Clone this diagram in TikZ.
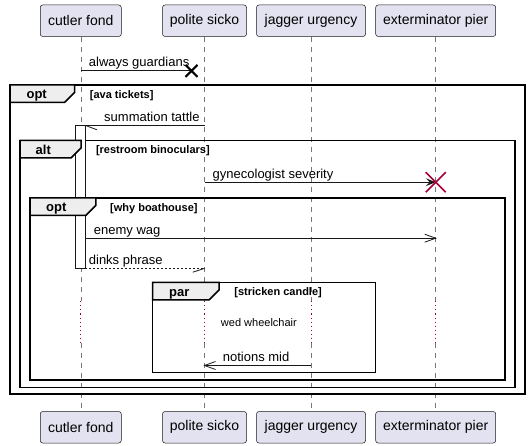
\documentclass[tikz,border=0pt]{standalone}
\usepackage{fontspec}
\setmainfont{Liberation Sans}
\usetikzlibrary{calc}
\definecolor{partfill}{HTML}{E2E2F0}
\definecolor{partline}{HTML}{181818}
\definecolor{lifeline}{HTML}{777777}
\definecolor{tabfill}{HTML}{EEEEEE}
\definecolor{crimson}{HTML}{A80036}
\begin{document}
\begin{tikzpicture}[x=1pt,y=-1pt,
  part/.style={draw=partline, fill=partfill, line width=0.5pt, rounded corners=2.5pt,
    minimum height=31.5pt, inner sep=0pt, font=\fontsize{14}{16}\selectfont},
  life/.style={draw=lifeline, line width=0.5pt, dash pattern=on 5pt off 5pt},
  delay/.style={draw=crimson, line width=0.7pt, dash pattern=on 1pt off 3pt},
  msg/.style={draw=partline, line width=0.8pt},
  lbl/.style={font=\fontsize{13}{15}\selectfont, inner sep=0pt, anchor=base west},
  frm/.style={draw=black, line width=1.5pt},
  tabshape/.style={draw=black, fill=tabfill, line width=1.5pt, line join=miter},
  tabtxt/.style={font=\bfseries\fontsize{13}{15}\selectfont, inner sep=0pt, anchor=base west},
  guard/.style={font=\bfseries\fontsize{11}{13}\selectfont, inner sep=0pt, anchor=base west},
  actbar/.style={draw=partline, fill=white, line width=0.8pt},
]
\useasboundingbox (0,0) rectangle (530,446);

% participants
\node[part, minimum width=81pt]  (cA) at (80.75,20.75) {cutler fond};
\node[part, minimum width=84pt]  (pA) at (204.5,20.75) {polite sicko};
\node[part, minimum width=109pt] (jA) at (311,20.75) {jagger urgency};
\node[part, minimum width=120pt] (eA) at (435.7,20.75) {exterminator pier};
\node[part, minimum width=81pt]  (cB) at (80.75,427.25) {cutler fond};
\node[part, minimum width=84pt]  (pB) at (204.5,427.25) {polite sicko};
\node[part, minimum width=109pt] (jB) at (311,427.25) {jagger urgency};
\node[part, minimum width=120pt] (eB) at (435.7,427.25) {exterminator pier};

% lifelines with delay section
\foreach \t/\b in {cA/cB, pA/pB, jA/jB, eA/eB}{
  \draw[life] (\t.south) -- (\t.south |- 0,301.5);
  \draw[delay] (\t.south |- 0,301.5) -- (\t.south |- 0,342.5);
  \draw[life] (\t.south |- 0,342.5) -- (\b.north);
}

% frames
\draw[frm] (10,85) rectangle (525,394);
\draw[frm] (20,140.5) rectangle (515,387.5);
\draw[frm] (30,198) rectangle (505,380);
\draw[frm] (152.5,282.5) rectangle (375.5,372.5);

% activation bar
\draw[actbar] (75.2,125.4) rectangle (85.3,268.4);

% tabs
\draw[tabshape] (10,85) -- (74.5,85) -- (74.5,92.5) -- (64.5,102.5) -- (10,102.5) -- cycle;
\node[tabtxt] (t1) at (26.4,99) {opt};
\node[guard] (g1) at (89.7,98.5) {[ava tickets]};

\draw[tabshape] (20,140.5) -- (81,140.5) -- (81,148) -- (71,158) -- (20,158) -- cycle;
\node[tabtxt] (t2) at (35.5,154.5) {alt};
\node[guard] (g2) at (95.8,154) {[restroom binoculars]};

\draw[tabshape] (30,198) -- (95.8,198) -- (95.8,205.5) -- (85.8,215.5) -- (30,215.5) -- cycle;
\node[tabtxt] (t3) at (46,212) {opt};
\node[guard] (g3) at (110,211.5) {[why boathouse]};

\draw[tabshape] (152.5,282.5) -- (219,282.5) -- (219,290) -- (209,300) -- (152.5,300) -- cycle;
\node[tabtxt] (t4) at (169,296.5) {par};
\node[guard] (g4) at (234.2,296) {[stricken candle]};

% message endpoints
\coordinate (m1s) at (80.75,70.4);
\coordinate (m1e) at (191.5,70.4);
\coordinate (m2s) at (204.5,125.4);
\coordinate (m2e) at (85.3,125.4);
\coordinate (m3s) at (204.5,182.2);
\coordinate (m3e) at (435.7,182.2);
\coordinate (m4s) at (85.3,238.2);
\coordinate (m4e) at (435.7,238.2);
\coordinate (m5s) at (85.3,268.4);
\coordinate (m5e) at (204.5,268.4);
\coordinate (m6s) at (311,365.5);
\coordinate (m6e) at (204.5,365.5);

% 1 lost message
\draw[msg] (m1s) -- (m1e);
\draw[draw=black, line width=2pt] ($(m1e)+(-6,-5.5)$) -- ($(m1e)+(6,6.5)$)
  ($(m1e)+(-6,6.5)$) -- ($(m1e)+(6,-5.5)$);
\node[lbl] (l1) at (88.7,66.4) {always guardians};

% 2 summation tattle
\draw[msg] (m2s) -- (m2e);
\draw[msg] (m2e) -- ++(11.7,4.4);
\node[lbl] (l2) at (104,121.4) {summation tattle};

% 3 gynecologist severity, destroy
\draw[msg] (m3s) -- ($(m3e)+(-4,0)$);
\fill[partline] (m3e) -- ++(-10,-4) -- ++(4,4) -- ++(-4,4) -- cycle;
\draw[draw=crimson, line width=1.6pt] ($(m3e)+(-10,-10)$) -- ($(m3e)+(10,10)$)
  ($(m3e)+(-10,10)$) -- ($(m3e)+(10,-10)$);
\node[lbl] (l3) at (212.5,178.2) {gynecologist severity};

% 4 enemy wag
\draw[msg] (m4s) -- (m4e);
\draw[msg] ($(m4e)+(-11,-4)$) -- (m4e) -- ($(m4e)+(-11,4)$);
\node[lbl] (l4) at (93.7,234.2) {enemy wag};

% 5 dinks phrase
\draw[msg, dash pattern=on 2pt off 2pt] (m5s) -- (m5e);
\draw[msg] (m5e) -- ++(-11.7,3.8);
\node[lbl] (l5) at (88.7,264.4) {dinks phrase};

% delay text
\node[font=\fontsize{11}{13}\selectfont, inner sep=0pt] (dl) at (258.9,322.8) {wed wheelchair};

% 6 notions mid
\draw[msg] (m6s) -- (m6e);
\draw[msg] ($(m6e)+(11,-4)$) -- (m6e) -- ($(m6e)+(11,4)$);
\node[lbl] (l6) at (222.7,361.5) {notions mid};
\end{tikzpicture}
\end{document}
